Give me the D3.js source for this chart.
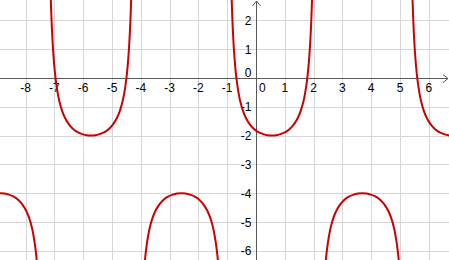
<!DOCTYPE html>
<html>
<head>
<meta charset="utf-8">
<script src="https://cdn.jsdelivr.net/npm/d3@7"></script>
<style>
body{margin:0;background:#fff;}
svg{display:block;}
text{font-family:"Liberation Sans",Arial,sans-serif;font-size:12px;fill:#000;}
</style>
</head>
<body>
<svg width="449" height="260"></svg>
<script>
(()=>{

//data: points, one array per branch
const branchA = [[-9.03,-4.01],[-8.88,-4.00],[-8.73,-4.01],[-8.58,-4.05],[-8.43,-4.11],[-8.28,-4.21],[-8.18,-4.31],[-8.08,-4.44],[-7.98,-4.61],[-7.88,-4.85],[-7.78,-5.20],[-7.73,-5.45],[-7.68,-5.76],[-7.63,-6.17],[-7.58,-6.74],[-7.53,-7.57]];
const branchB = [[-7.16,4.13],[-7.13,2.88],[-7.08,1.57],[-7.03,0.74],[-6.98,0.17],[-6.93,-0.24],[-6.88,-0.55],[-6.83,-0.80],[-6.73,-1.15],[-6.63,-1.39],[-6.53,-1.56],[-6.43,-1.69],[-6.33,-1.79],[-6.18,-1.89],[-6.03,-1.95],[-5.88,-1.99],[-5.73,-2.00],[-5.58,-1.99],[-5.43,-1.95],[-5.28,-1.89],[-5.13,-1.79],[-5.03,-1.69],[-4.93,-1.56],[-4.83,-1.39],[-4.73,-1.15],[-4.63,-0.80],[-4.58,-0.55],[-4.53,-0.24],[-4.48,0.17],[-4.43,0.74],[-4.38,1.57],[-4.33,2.88],[-4.30,4.13]];
const branchC = [[-3.94,-7.57],[-3.89,-6.74],[-3.84,-6.17],[-3.79,-5.76],[-3.74,-5.45],[-3.69,-5.20],[-3.59,-4.85],[-3.49,-4.61],[-3.39,-4.44],[-3.29,-4.31],[-3.19,-4.21],[-3.04,-4.11],[-2.89,-4.05],[-2.74,-4.01],[-2.59,-4.00],[-2.44,-4.01],[-2.29,-4.05],[-2.14,-4.11],[-1.99,-4.21],[-1.89,-4.31],[-1.79,-4.44],[-1.69,-4.61],[-1.59,-4.85],[-1.49,-5.20],[-1.44,-5.45],[-1.39,-5.76],[-1.34,-6.17],[-1.29,-6.74],[-1.24,-7.57]];
const branchD = [[-0.88,4.13],[-0.85,2.88],[-0.80,1.57],[-0.75,0.74],[-0.70,0.17],[-0.65,-0.24],[-0.60,-0.55],[-0.55,-0.80],[-0.45,-1.15],[-0.35,-1.39],[-0.25,-1.56],[-0.15,-1.69],[-0.05,-1.79],[0.10,-1.89],[0.25,-1.95],[0.40,-1.99],[0.55,-2.00],[0.70,-1.99],[0.85,-1.95],[1.00,-1.89],[1.15,-1.79],[1.25,-1.69],[1.35,-1.56],[1.45,-1.39],[1.55,-1.15],[1.65,-0.80],[1.70,-0.55],[1.75,-0.24],[1.80,0.17],[1.85,0.74],[1.90,1.57],[1.95,2.88],[1.98,4.13]];
const branchE = [[2.34,-7.57],[2.39,-6.74],[2.44,-6.17],[2.49,-5.76],[2.54,-5.45],[2.59,-5.20],[2.69,-4.85],[2.79,-4.61],[2.89,-4.44],[2.99,-4.31],[3.09,-4.21],[3.24,-4.11],[3.39,-4.05],[3.54,-4.01],[3.69,-4.00],[3.84,-4.01],[3.99,-4.05],[4.14,-4.11],[4.29,-4.21],[4.39,-4.31],[4.49,-4.44],[4.59,-4.61],[4.69,-4.85],[4.79,-5.20],[4.84,-5.45],[4.89,-5.76],[4.94,-6.17],[4.99,-6.74],[5.04,-7.57]];
const branchF = [[5.40,4.13],[5.43,2.88],[5.48,1.57],[5.53,0.74],[5.58,0.17],[5.63,-0.24],[5.68,-0.55],[5.73,-0.80],[5.83,-1.15],[5.93,-1.39],[6.03,-1.56],[6.13,-1.69],[6.23,-1.79],[6.38,-1.89],[6.53,-1.95],[6.68,-1.99],[6.83,-2.00],[6.98,-1.99]];

//tick labels
const xTicks = [-8,-7,-6,-5,-4,-3,-2,-1,1,2,3,4,5,6];
const yTicks = [2,1,-1,-2,-3,-4,-5,-6];
const gridX = [-8,-7,-6,-5,-4,-3,-2,-1,1,2,3,4,5,6];
const gridY = [2,1,-1,-2,-3,-4,-5,-6];

let svg = d3.select("svg"),
	width = +svg.attr("width"),
	height = +svg.attr("height");

//view window, about 28.8px per unit
let x = d3.scaleLinear().domain([-8.889, 6.701]).range([0, width]);
let y = d3.scaleLinear().domain([2.708, -6.319]).range([0, height]);

let px = v => Math.round(x(v)) + 0.5;
let py = v => Math.round(y(v)) + 0.5;

//grid
svg.append("g").selectAll("line")
	.data(gridX)
	.enter().append("line")
	.attr("x1", d => px(d)).attr("x2", d => px(d))
	.attr("y1", 0).attr("y2", height)
	.attr("stroke", "#d6d6d6");

svg.append("g").selectAll("line")
	.data(gridY)
	.enter().append("line")
	.attr("y1", d => py(d)).attr("y2", d => py(d))
	.attr("x1", 0).attr("x2", width)
	.attr("stroke", "#d6d6d6");

//axes
let axisColor = "#5a5a5a";
let ox = px(0), oy = py(0);
svg.append("line")
	.attr("x1", 0).attr("x2", width - 1)
	.attr("y1", oy).attr("y2", oy)
	.attr("stroke", axisColor);
svg.append("line")
	.attr("x1", ox).attr("x2", ox)
	.attr("y1", 1).attr("y2", height)
	.attr("stroke", axisColor);

//arrow heads
svg.append("path")
	.attr("d", `M${width-6},${oy-4}L${width-1},${oy}L${width-6},${oy+4}`)
	.attr("fill", "none").attr("stroke", axisColor);
svg.append("path")
	.attr("d", `M${ox-4},${6}L${ox},${1}L${ox+4},${6}`)
	.attr("fill", "none").attr("stroke", axisColor);

//tick labels
svg.append("g").selectAll("text")
	.data(xTicks)
	.enter().append("text")
	.attr("x", d => x(d))
	.attr("y", oy + 13)
	.attr("text-anchor", "middle")
	.text(d => d < 0 ? "-" + Math.abs(d) : d);

svg.append("g").selectAll("text")
	.data(yTicks)
	.enter().append("text")
	.attr("x", ox - 5)
	.attr("y", d => y(d) + 4.5)
	.attr("text-anchor", "end")
	.text(d => d < 0 ? "-" + Math.abs(d) : d);

//origin labels
svg.append("text").attr("x", ox + 2.5).attr("y", oy + 13).text("0");
svg.append("text").attr("x", ox - 5).attr("y", oy - 2).attr("text-anchor", "end").text("0");

//curve
let line = d3.line()
	.x(d => x(d[0]))
	.y(d => y(d[1]))
	.curve(d3.curveCatmullRom.alpha(0.5));

svg.append("g").selectAll("path")
	.data([branchA, branchB, branchC, branchD, branchE, branchF])
	.enter().append("path")
	.attr("d", line)
	.attr("fill", "none")
	.attr("stroke", "#cc0000")
	.attr("stroke-width", 2)
	.attr("stroke-linejoin", "round");

})();
</script>
</body>
</html>
